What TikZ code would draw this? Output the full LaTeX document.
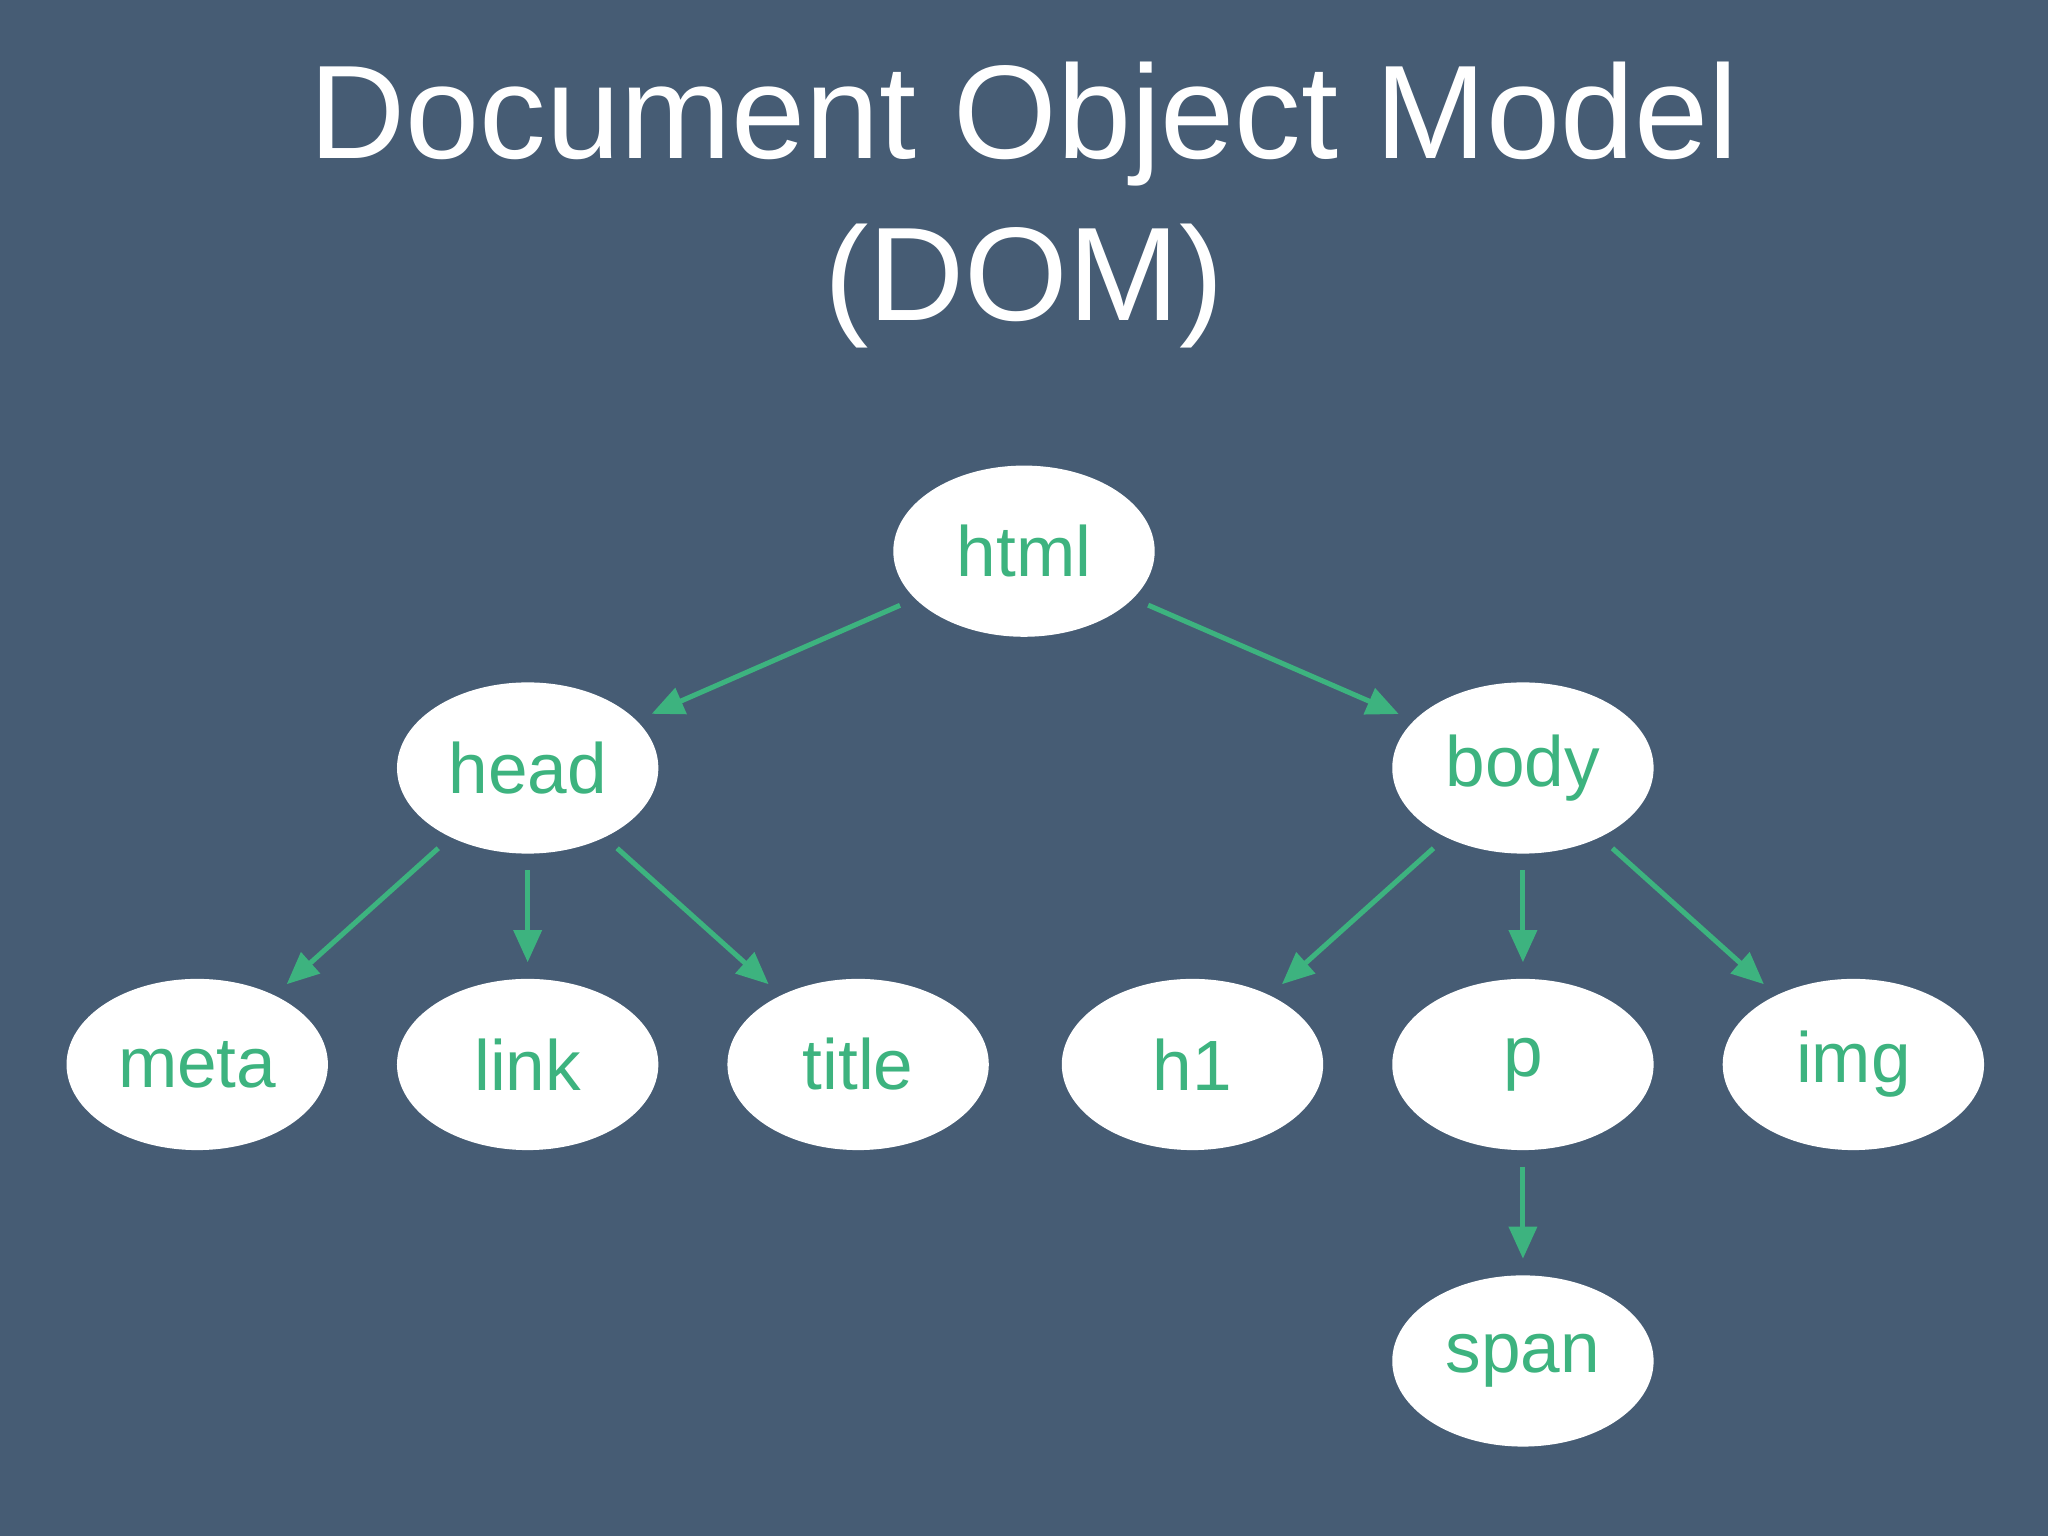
\documentclass[tikz,border=0pt]{standalone}
\usepackage{fontspec}
\setmainfont{Liberation Sans}
\usetikzlibrary{shapes.geometric,arrows.meta}
\definecolor{bg}{HTML}{465C74}
\definecolor{grn}{HTML}{3DB37F}
\begin{document}
\begin{tikzpicture}[x=0.01cm,y=-0.01cm,
  el/.style={ellipse,fill=white,minimum width=2cm,minimum height=1.31cm,inner sep=0pt,text=grn,font=\fontsize{15.5}{18}\selectfont},
  ar/.style={draw=grn,line width=1.1pt,-{Triangle[length=7pt,width=6pt]},shorten <=0.12cm,shorten >=0.12cm}]
\fill[bg] (0,0) rectangle (1568,1176);
\node[text=white,font=\fontsize{29}{34}\selectfont] (t1) at (784,95) {Document Object Model};
\node[text=white,font=\fontsize{29}{34}\selectfont] (t2) at (784,219) {(DOM)};
\node[el] (html) at (784,422) {html};
\node[el] (head) at (404,588) {head};
\node[el] (body) at (1166,588) {body};
\node[el] (meta) at (151,815) {meta};
\node[el] (link) at (404,815) {link};
\node[el] (title) at (657,815) {title};
\node[el] (h1) at (913,815) {h1};
\node[el] (p) at (1166,815) {p};
\node[el] (img) at (1419,815) {img};
\node[el] (span) at (1166,1042) {span};
\draw[ar] (html) -- (head);
\draw[ar] (html) -- (body);
\draw[ar] (head) -- (meta);
\draw[ar] (head) -- (link);
\draw[ar] (head) -- (title);
\draw[ar] (body) -- (h1);
\draw[ar] (body) -- (p);
\draw[ar] (body) -- (img);
\draw[ar] (p) -- (span);
\end{tikzpicture}
\end{document}
